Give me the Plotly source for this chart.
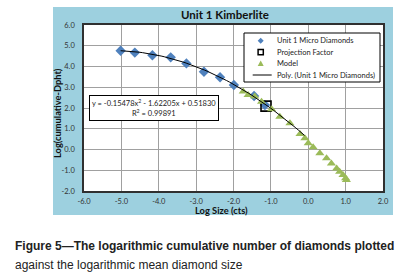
import plotly.graph_objects as go

# ---- data ----
micro_x = [-5.02, -4.64, -4.17, -3.68, -3.26, -2.79, -2.36, -1.99, -1.45, -1.16]
micro_y = [4.76, 4.67, 4.54, 4.44, 4.15, 3.75, 3.48, 3.11, 2.58, 2.14]

proj_x = [-1.13]
proj_y = [2.09]

model_x = [-1.74, -1.61, -1.43, -1.25, -0.98, -0.76, -0.49, -0.22, -0.09, 0.00,
           0.13, 0.31, 0.49, 0.62, 0.76, 0.84, 0.93, 1.00, 1.02]
model_y = [2.79, 2.63, 2.55, 2.30, 1.94, 1.58, 1.26, 0.75, 0.54, 0.30,
           0.11, -0.18, -0.42, -0.67, -0.91, -1.07, -1.23, -1.39, -1.47]

poly_coef = [-0.15478, -1.62205, 0.51830]   # a, b, c of trendline
poly_range = [-5.02, -0.10]
r_squared = 0.99891

x_ticks = [-6.0, -5.0, -4.0, -3.0, -2.0, -1.0, 0.0, 1.0, 2.0]
y_ticks = [-2.0, -1.0, 0.0, 1.0, 2.0, 3.0, 4.0, 5.0, 6.0]

legend_names = ["Unit 1 Micro Diamonds", "Projection Factor", "Model",
                "Poly. (Unit 1 Micro Diamonds)"]
title = "Unit 1 Kimberlite"
x_title = "Log Size (cts)"
y_title = "Log(cumulative-Dpht)"
caption1 = "Figure 5\u2014The logarithmic cumulative number of diamonds plotted"
caption2 = "against the logarithmic mean diamond size"

# trendline sampled from the displayed equation
n = 60
fit_x = [poly_range[0] + (poly_range[1] - poly_range[0]) * i / (n - 1) for i in range(n)]
fit_y = [poly_coef[0] * v * v + poly_coef[1] * v + poly_coef[2] for v in fit_x]

BLUE = "#4F81BD"
GREEN = "#9BBB59"
FONT = "Lato"

fig = go.Figure()
fig.add_trace(go.Scatter(x=micro_x, y=micro_y, mode="markers", name=legend_names[0],
                         marker=dict(symbol="diamond", size=8, color=BLUE)))
fig.add_trace(go.Scatter(x=proj_x, y=proj_y, mode="markers", name=legend_names[1],
                         marker=dict(symbol="square-open", size=10, color="black",
                                     line=dict(width=1.6, color="black"))))
fig.add_trace(go.Scatter(x=model_x, y=model_y, mode="markers", name=legend_names[2],
                         marker=dict(symbol="triangle-up", size=8, color=GREEN)))
fig.add_trace(go.Scatter(x=fit_x, y=fit_y, mode="lines", name=legend_names[3],
                         line=dict(color="black", width=1)))

L, R, T, B = 84, 18, 25, 89
W, H = 401, 280
pw, ph = W - L - R, H - T - B

def px(xp):
    return (xp - L) / pw

def py(yp):
    return (H - B - yp) / ph

shapes = [
    dict(type="rect", xref="paper", yref="paper", layer="below",
         x0=px(53), x1=px(393), y0=py(215), y1=py(7),
         fillcolor="#9DD0DF", line=dict(width=0)),
    dict(type="rect", xref="paper", yref="paper", layer="below",
         x0=0, x1=1, y0=0, y1=1, fillcolor="white", line=dict(width=0)),
]

# custom legend box (Excel-style compact legend)
lg_x0, lg_x1, lg_y0, lg_y1 = 244, 380, 33, 82
rows = [40.7, 52.2, 63.5, 75.0]
mk_x = 260.7
txt_x = 274.5
shapes.append(dict(type="rect", xref="paper", yref="paper", layer="above",
                   x0=px(lg_x0), x1=px(lg_x1), y0=py(lg_y1), y1=py(lg_y0),
                   fillcolor="white", line=dict(color="black", width=1)))

def ppath(points):
    s = "M " + " L ".join("%f,%f" % (px(a), py(b)) for a, b in points) + " Z"
    return s

r = 3.0
shapes.append(dict(type="path", xref="paper", yref="paper", layer="above",
                   path=ppath([(mk_x, rows[0] - r), (mk_x + r, rows[0]), (mk_x, rows[0] + r), (mk_x - r, rows[0])]),
                   fillcolor=BLUE, line=dict(width=0)))
shapes.append(dict(type="rect", xref="paper", yref="paper", layer="above",
                   x0=px(mk_x - 2.6), x1=px(mk_x + 2.6), y0=py(rows[1] + 2.6), y1=py(rows[1] - 2.6),
                   fillcolor="white", line=dict(color="black", width=1.5)))
shapes.append(dict(type="path", xref="paper", yref="paper", layer="above",
                   path=ppath([(mk_x, rows[2] - 3), (mk_x + 3, rows[2] + 2.5), (mk_x - 3, rows[2] + 2.5)]),
                   fillcolor=GREEN, line=dict(width=0)))
shapes.append(dict(type="line", xref="paper", yref="paper", layer="above",
                   x0=px(252.7), x1=px(271.7), y0=py(rows[3]), y1=py(rows[3]),
                   line=dict(color="black", width=1)))

def note(text, x, y, size, xanchor="center", color="#222222", family=FONT, **kw):
    return dict(text=text, xref="paper", yref="paper", x=x, y=y, xanchor=xanchor,
                yanchor="middle", showarrow=False,
                font=dict(size=size, color=color, family=family), **kw)

annotations = [
    note("<b>" + title + "</b>", px(225), py(15), 11.5, color="#111111"),
    note("<b>" + x_title + "</b>", px(221), py(210.5), 9.3, color="#111111"),
    note("<b>" + y_title + "</b>", px(58), py(113), 9.3, color="#111111", textangle=-90),
    dict(text="y = -0.15478x<sup>2</sup> - 1.62205x + 0.51830<br>R<sup>2</sup> = %.5f" % r_squared,
         xref="x", yref="y", x=-4.12, y=2.02, xanchor="center", yanchor="middle", showarrow=False,
         bgcolor="white", bordercolor="black", borderwidth=1, borderpad=2,
         font=dict(size=7.5, color="#222222", family=FONT)),
    note("<b>" + caption1 + "</b>", px(13), py(246), 12, xanchor="left", family="Liberation Sans"),
    note(caption2, px(13), py(265), 12, xanchor="left", family="Liberation Sans"),
]
for name, yrow in zip(legend_names, rows):
    annotations.append(note(name, px(txt_x), py(yrow), 7.5, xanchor="left"))

fig.update_layout(
    width=W, height=H,
    margin=dict(l=L, r=R, t=T, b=B, pad=0),
    paper_bgcolor="white",
    plot_bgcolor="white",
    font=dict(family=FONT, size=7.5, color="#333333"),
    showlegend=False,
    shapes=shapes,
    annotations=annotations,
)
fig.update_xaxes(range=[-6, 2], tickvals=x_ticks, ticktext=["%.1f" % v for v in x_ticks],
                 showgrid=True, gridcolor="#A0A0A0", gridwidth=1, zeroline=False,
                 showline=True, linecolor="#303030", linewidth=1.5, mirror=True,
                 ticks="", ticklabelstandoff=2, tickfont=dict(size=7.5, color="#333333"))
fig.update_yaxes(range=[-2, 6], tickvals=y_ticks, ticktext=["%.1f" % v for v in y_ticks],
                 showgrid=True, gridcolor="#A0A0A0", gridwidth=1, zeroline=False,
                 showline=True, linecolor="#303030", linewidth=1.5, mirror=True,
                 ticks="", ticklabelstandoff=6, tickfont=dict(size=7.5, color="#333333"))

fig.write_html("out.html", config={"displayModeBar": False},
               post_script="document.body.style.margin='0';")
